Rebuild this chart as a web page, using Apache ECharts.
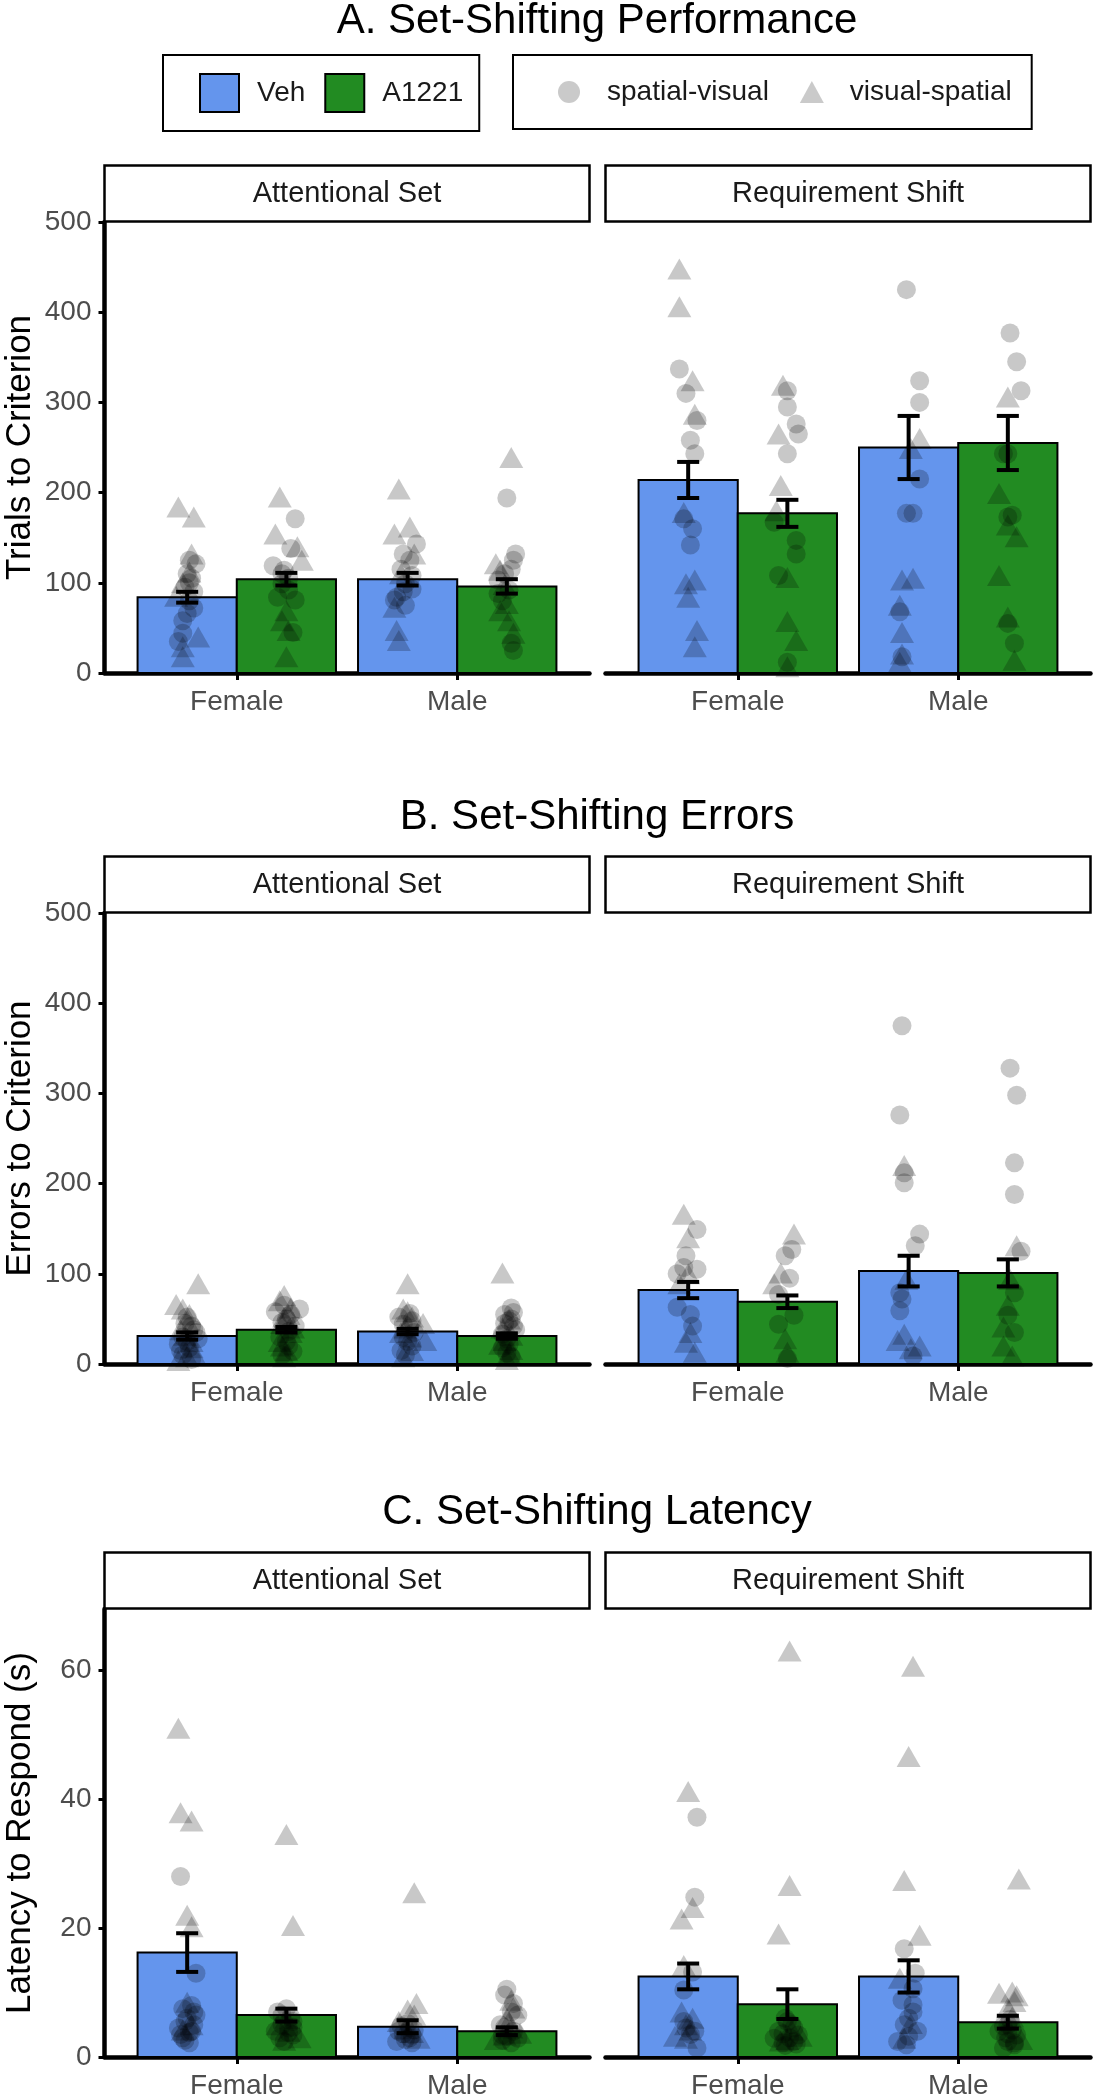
<!DOCTYPE html>
<html><head><meta charset="utf-8">
<script src="https://cdn.jsdelivr.net/npm/echarts@6/dist/echarts.min.js"></script>
<style>html,body{margin:0;padding:0;background:#fff}#chart{width:1094px;height:2100px}</style>
</head><body><div id="chart"></div>
<script>
// ---------- DATA ----------
const sexes = ['Female', 'Male'];
const treatments = ['Veh', 'A1221'];
const phases = ['Attentional Set', 'Requirement Shift'];
const shapes = ['spatial-visual', 'visual-spatial'];
const panelTitles = ['A. Set-Shifting Performance', 'B. Set-Shifting Errors', 'C. Set-Shifting Latency'];
const yTitles = ['Trials to Criterion', 'Errors to Criterion', 'Latency to Respond (s)'];
const yTicksTrials = [0, 100, 200, 300, 400, 500];
const yTicksErrors = [0, 100, 200, 300, 400, 500];
const yTicksLatency = [0, 20, 40, 60];
const yMaxes = [500, 500, 69.5];

// group order: 0 Female-Veh, 1 Female-A1221, 2 Male-Veh, 3 Male-A1221
const trialsMeanAS = [84, 104, 104, 96];
const trialsSeAS = [6, 7, 7, 8];
const trialsMeanRS = [214, 177, 250, 255];
const trialsSeRS = [20, 15, 35, 30];
const errorsMeanAS = [31, 38, 36, 31];
const errorsSeAS = [4, 3, 3, 3];
const errorsMeanRS = [82, 69, 103, 101];
const errorsSeRS = [9, 7, 17, 15];
const latencyMeanAS = [16.2, 6.5, 4.7, 4.0];
const latencySeAS = [3.0, 1.0, 1.0, 0.6];
const latencyMeanRS = [12.5, 8.2, 12.5, 5.4];
const latencySeRS = [2.0, 2.3, 2.5, 1.0];

// individual animals: [group, jitter, value]
const trialsCirclesAS = [
  [0,0.04,121],[0,0,110],[0,0.01,100],[0,0,66],[0,-0.02,58],[0,-0.02,44],[0,0.01,80],[0,0.03,90],[0,-0.04,35],[0,0.01,125],[0,0.02,105],[0,-0.01,95],[0,0.03,72],
  [1,0.04,171],[1,0.02,138],[1,-0.06,119],[1,-0.01,114],[1,-0.04,84],[1,0.04,81],[1,0.03,45],[1,-0.02,99],[1,0.01,105],[1,0.01,92],[1,-0.02,110],
  [2,0.04,143],[2,-0.02,132],[2,0.01,125],[2,-0.01,99],[2,-0.05,84],[2,-0.06,81],[2,-0.01,75],[2,0.02,93],[2,-0.03,115],[2,0.02,108],[2,-0.02,90],
  [3,0,194],[3,0.04,132],[3,0.03,125],[3,-0.01,110],[3,-0.04,103],[3,0.01,92],[3,0.02,33],[3,0.03,25],[3,-0.04,88],[3,0.02,115],[3,-0.02,80]
];
const trialsTrianglesAS = [
  [0,-0.04,184],[0,0.03,173],[0,0.02,132],[0,0.01,112],[0,-0.02,100],[0,0.05,40],[0,-0.02,29],[0,-0.02,18],[0,-0.05,85],
  [1,-0.03,195],[1,-0.05,154],[1,0.05,140],[1,0.07,125],[1,-0.02,58],[1,0.01,47],[1,0,18],[1,0,69],
  [2,-0.04,204],[2,-0.06,154],[2,0.01,162],[2,-0.05,47],[2,-0.04,36],[2,-0.06,73],[2,0.03,132],[2,-0.03,110],
  [3,0.02,239],[3,-0.05,121],[3,-0.03,114],[3,0,77],[3,0.01,58],[3,0.03,44],[3,-0.03,69],[3,-0.01,98]
];
const trialsCirclesRS = [
  [0,-0.04,337],[0,-0.01,310],[0,0.04,280],[0,0.01,258],[0,0.03,243],[0,-0.02,171],[0,0.02,160],[0,0.01,142],
  [1,0,313],[1,0,295],[1,0.04,276],[1,0.05,265],[1,0,243],[1,-0.06,167],[1,0.04,147],[1,0.04,132],[1,-0.04,108],[1,0,12],
  [2,-0.01,425],[2,0.05,324],[2,0.05,300],[2,0.05,215],[2,0.02,177],[2,-0.01,177],[2,-0.04,68],[2,-0.03,18],
  [3,0.01,377],[3,0.04,345],[3,0.06,313],[3,0,243],[3,-0.02,243],[3,0.02,175],[3,0,173],[3,0,55],[3,0.03,33]
];
const trialsTrianglesRS = [
  [0,-0.04,448],[0,-0.04,406],[0,0.02,324],[0,0.03,287],[0,-0.02,178],[0,-0.01,99],[0,0.03,103],[0,0,84],[0,0.04,47],[0,0.03,29],
  [1,-0.02,319],[1,-0.04,265],[1,-0.03,208],[1,-0.05,180],[1,0,106],[1,0,57],[1,0.04,36],[1,0,7],
  [2,0.05,260],[2,0.01,249],[2,-0.03,103],[2,0.02,105],[2,-0.04,75],[2,-0.03,45],[2,-0.03,21],[2,-0.04,12],
  [3,0,306],[3,-0.04,199],[3,0,164],[3,0.04,151],[3,-0.04,108],[3,0,62],[3,0.03,14]
];
const errorsCirclesAS = [
  [0,0,52],[0,0.02,42],[0,0.04,35],[0,-0.02,30],[0,-0.04,22],[0,0.01,18],[0,-0.02,10],[0,0.05,28],[0,-0.01,45],[0,0.03,38],[0,-0.03,15],[0,0.02,5],[0,0,25],
  [1,0.06,61],[1,-0.05,58],[1,0,50],[1,0.04,42],[1,-0.03,30],[1,0.01,20],[1,-0.02,10],[1,-0.01,65],[1,0.02,55],[1,-0.02,46],[1,0.01,36],[1,0,25],[1,0.03,14],
  [2,-0.04,52],[2,0.02,48],[2,0.01,40],[2,-0.02,30],[2,0.02,20],[2,-0.01,10],[2,0.01,56],[2,-0.02,44],[2,0.03,35],[2,0,25],[2,-0.03,15],
  [3,0.03,57],[3,0.02,50],[3,-0.01,45],[3,0.04,38],[3,0,28],[3,-0.02,18],[3,0.02,8],[3,0.02,62],[3,-0.01,55],[3,0.01,48],[3,0.03,42],[3,-0.02,33],[3,0.01,22],[3,0,12]
];
const errorsTrianglesAS = [
  [0,0.05,89],[0,-0.05,66],[0,-0.02,61],[0,0,48],[0,-0.03,38],[0,0.02,25],[0,0.03,12],[0,0,8],[0,0.01,55],[0,-0.01,32],[0,0.02,18],[0,-0.04,4],
  [1,-0.01,76],[1,-0.03,70],[1,0.01,55],[1,-0.02,45],[1,0.02,35],[1,-0.03,25],[1,0,15],[1,-0.01,8],[1,0.02,62],[1,-0.01,52],[1,0.03,40],[1,-0.02,20],
  [2,0,89],[2,-0.02,61],[2,0.07,45],[2,-0.03,35],[2,0.08,26],[2,0.02,15],[2,0,58],[2,0.02,52],[2,-0.01,40],[2,0.01,30],[2,-0.02,8],
  [3,-0.02,101],[3,-0.02,40],[3,0.02,32],[3,-0.03,22],[3,0.01,12],[3,0.01,50],[3,-0.01,26],[3,0.02,16],[3,0,5]
];
const errorsCirclesRS = [
  [0,0.04,149],[0,-0.01,120],[0,-0.02,107],[0,-0.05,100],[0,0.04,105],[0,-0.05,63],[0,0.01,55],[0,0.02,42],
  [1,0.02,127],[1,-0.01,120],[1,0.01,95],[1,-0.04,77],[1,0.03,54],[1,-0.04,44],[1,0,6],
  [2,-0.03,375],[2,-0.04,276],[2,-0.02,212],[2,-0.02,201],[2,0.05,144],[2,0.03,131],[2,-0.04,79],[2,-0.03,72],[2,-0.04,59],[2,0.02,9],
  [3,0.01,328],[3,0.04,298],[3,0.03,223],[3,0.03,188],[3,0.06,125],[3,0.03,79],[3,0,54],[3,0.03,35]
];
const errorsTrianglesRS = [
  [0,-0.02,166],[0,0,140],[0,0,100],[0,-0.04,89],[0,0.01,35],[0,-0.01,24],[0,0.03,13],
  [1,0.03,144],[1,-0.03,101],[1,-0.06,89],[1,-0.01,28],[1,0,13],
  [2,-0.02,220],[2,-0.01,94],[2,-0.05,26],[2,-0.02,33],[2,0.05,20],[2,0.01,17],
  [3,0.04,131],[3,0.01,94],[3,0,65],[3,-0.02,41],[3,-0.02,20],[3,0.02,9]
];
const latencyCirclesAS = [
  [0,-0.03,28],[0,0.04,13],[0,0.03,7],[0,-0.01,5.5],[0,-0.04,4.5],[0,0.02,4],[0,-0.02,3],[0,0.01,2.2],[0,0.04,6.5],[0,0.02,8],[0,-0.02,7.5],[0,0,6],[0,0.03,5],[0,-0.03,3.5],[0,0.01,3.8],[0,-0.01,2.6],
  [1,-0.02,6.5],[1,0.03,5.5],[1,0.01,4.5],[1,-0.05,4],[1,-0.01,2.4],[1,0.03,3.4],[1,-0.04,7],[1,0,7.5],[1,0.02,6.2],[1,-0.02,5],[1,0.01,3.8],[1,-0.03,3],[1,0.03,4.6],
  [2,-0.04,4],[2,0.02,3.4],[2,-0.01,2.7],[2,-0.05,2.4],[2,0.01,4.5],[2,0,5.2],[2,0.03,4.2],[2,-0.02,3.6],[2,0.01,3],[2,-0.03,4.8],[2,0.02,2.2],
  [3,-0.01,9.6],[3,0.03,8.3],[3,0.05,6.5],[3,-0.03,5],[3,-0.02,3.4],[3,0.05,2.9],[3,0.02,2.2],[3,0,10.5],[3,0.02,7],[3,-0.01,4.6],[3,0.03,4],[3,-0.02,2.6],[3,0,3.2]
];
const latencyTrianglesAS = [
  [0,-0.04,51],[0,-0.03,37.9],[0,0.02,36.6],[0,0,22],[0,0.02,20.2],[0,0.02,5],[0,0,8.5],[0,-0.02,4.2],
  [1,0,34.5],[1,0.03,20.4],[1,-0.04,5],[1,0.06,3],[1,0,6],[1,0.01,4],[1,-0.01,2.6],
  [2,0.03,25.5],[2,0.04,8.3],[2,0,7.3],[2,0.05,2.9],[2,-0.04,5.5],[2,0.02,3.8],[2,-0.01,4.4],[2,0.03,6.5],
  [3,0.03,7.6],[3,0,6],[3,0.02,4.5],[3,-0.05,2.7],[3,0.06,3.7],[3,0.02,8.8],[3,0.01,5.5],[3,-0.01,3.4]
];
const latencyCirclesRS = [
  [0,0.04,37.2],[0,0.03,24.8],[0,0.02,13.2],[0,-0.02,10.4],[0,-0.01,4.5],[0,0.03,4],[0,0.04,1.4],[0,-0.02,5.5],[0,0.01,3.5],
  [1,-0.01,6],[1,0.02,5],[1,-0.04,4],[1,0.05,3.4],[1,-0.02,2.2],[1,0.03,2.4],[1,-0.06,2.9],[1,0,5.5],[1,0.03,4.5],[1,-0.02,3.6],[1,0.01,3],[1,-0.01,1.8],[1,0.04,2],
  [2,-0.02,16.8],[2,0.02,8.1],[2,0,6],[2,0.04,4],[2,-0.05,2.4],[2,0.02,10.6],[2,-0.01,1.9],[2,0.03,13],[2,0.02,7],[2,-0.02,5],[2,0,3.2],[2,-0.03,8.8],
  [3,0,5],[3,-0.04,4],[3,0.04,3.4],[3,0,2.4],[3,-0.02,1.4],[3,0.03,1.9],[3,0.01,5.8],[3,-0.02,4.8],[3,0.02,4.2],[3,-0.01,3],[3,0.03,2.2],[3,0,3.6]
];
const latencyTrianglesRS = [
  [0,0,41.2],[0,0.02,23.2],[0,-0.03,21.4],[0,-0.02,14.2],[0,-0.03,7],[0,0.02,6],[0,-0.06,3.2],[0,-0.01,2.9],[0,-0.01,5],[0,0.01,4.2],
  [1,0.01,63],[1,0.01,26.6],[1,-0.04,19.1],[1,0,2.7],[1,0.06,3.2],[1,0.02,4.2],[1,-0.03,2.5],
  [2,0.02,60.6],[2,0,46.6],[2,-0.02,27.4],[2,0.05,18.9],[2,-0.04,12.2],[2,-0.02,2.9],[2,0.01,5.2],
  [3,0.05,27.6],[3,-0.04,9.9],[3,0.02,10.1],[3,0.03,8.6],[3,0,7.6],[3,0.06,2.7],[3,0.04,9.5],[3,0.02,6.2]
];

// ---------- LAYOUT / STYLE ----------
const FONT = '"Liberation Sans", Arial, sans-serif';
const barColors = ['#6495ED', '#228B22'];
const pointColor = 'rgba(0,0,0,0.27)';
const rowTop = [222, 913, 1609];
const panelH = 451;
const colLeft = [104.5, 605.5];
const panelW = 485;
const titleY = [21, 817, 1512];
const stripH = 56;

const panels = [
  { means: [trialsMeanAS, trialsMeanRS], ses: [trialsSeAS, trialsSeRS], circles: [trialsCirclesAS, trialsCirclesRS], triangles: [trialsTrianglesAS, trialsTrianglesRS], ticks: yTicksTrials },
  { means: [errorsMeanAS, errorsMeanRS], ses: [errorsSeAS, errorsSeRS], circles: [errorsCirclesAS, errorsCirclesRS], triangles: [errorsTrianglesAS, errorsTrianglesRS], ticks: yTicksErrors },
  { means: [latencyMeanAS, latencyMeanRS], ses: [latencySeAS, latencySeRS], circles: [latencyCirclesAS, latencyCirclesRS], triangles: [latencyTrianglesAS, latencyTrianglesRS], ticks: yTicksLatency }
];

const groupX = g => Math.floor(g / 2) + 1 + (g % 2 === 0 ? -0.225 : 0.225);

const grids = [], xAxes = [], yAxes = [], series = [], graphics = [];

panels.forEach((pan, r) => {
  graphics.push({
    type: 'text', x: 597, y: titleY[r], z: 10,
    style: { text: panelTitles[r], fontSize: 42, fontFamily: FONT, fill: '#000', textAlign: 'center', textVerticalAlign: 'middle' }
  });
  phases.forEach((ph, c) => {
    const gi = r * 2 + c;
    grids.push({ left: colLeft[c], top: rowTop[r], width: panelW, height: panelH, containLabel: false });
    graphics.push({
      type: 'rect', z: 5,
      shape: { x: colLeft[c], y: rowTop[r] - stripH - 0.5, width: panelW, height: stripH },
      style: { fill: '#fff', stroke: '#000', lineWidth: 2.5 }
    });
    graphics.push({
      type: 'text', z: 6, x: colLeft[c] + panelW / 2, y: rowTop[r] - stripH / 2 - 0.5,
      style: { text: ph, fontSize: 29, fontFamily: FONT, fill: '#1A1A1A', textAlign: 'center', textVerticalAlign: 'middle' }
    });
    xAxes.push({
      gridIndex: gi, type: 'value', min: 0.4, max: 2.6,
      axisLine: { show: true, lineStyle: { color: '#000', width: 4.5 } },
      axisTick: { show: true, customValues: [1, 2], length: 7, lineStyle: { color: '#000', width: 3 } },
      axisLabel: { show: true, customValues: [1, 2], formatter: v => sexes[Math.round(v) - 1], fontSize: 28, color: '#4D4D4D', fontFamily: FONT, margin: 15 },
      splitLine: { show: false }
    });
    const y = {
      gridIndex: gi, type: 'value', min: 0, max: yMaxes[r],
      splitLine: { show: false }
    };
    if (c === 0) {
      Object.assign(y, {
        axisLine: { show: true, lineStyle: { color: '#000', width: 4.5 } },
        axisTick: { show: true, customValues: pan.ticks, length: 6, lineStyle: { color: '#000', width: 3 } },
        axisLabel: { show: true, customValues: pan.ticks, fontSize: 28, color: '#4D4D4D', fontFamily: FONT, margin: 13 },
        name: yTitles[r], nameLocation: 'middle', nameGap: 67,
        nameTextStyle: { fontSize: 35, color: '#000', fontFamily: FONT }
      });
    } else {
      Object.assign(y, { axisLine: { show: false }, axisTick: { show: false }, axisLabel: { show: false } });
    }
    yAxes.push(y);

    treatments.forEach((trt, t) => {
      series.push({
        type: 'custom', name: trt, xAxisIndex: gi, yAxisIndex: gi, z: 2,
        itemStyle: { color: barColors[t] },
        encode: { x: 0, y: 1 },
        data: sexes.map((s, si) => [groupX(si * 2 + t), pan.means[c][si * 2 + t]]),
        renderItem: (params, api) => {
          const xv = api.value(0), yv = api.value(1);
          const p1 = api.coord([xv - 0.225, yv]);
          const p2 = api.coord([xv + 0.225, 0]);
          return { type: 'rect', shape: { x: p1[0], y: p1[1], width: p2[0] - p1[0], height: p2[1] - p1[1] },
                   style: { fill: barColors[t], stroke: '#000', lineWidth: 2 } };
        }
      });
    });
    [pan.circles[c], pan.triangles[c]].forEach((pts, s) => {
      series.push({
        type: 'scatter', name: shapes[s], xAxisIndex: gi, yAxisIndex: gi, z: 3,
        symbol: s === 0 ? 'circle' : 'triangle',
        symbolSize: s === 0 ? 19 : [24, 21],
        itemStyle: { color: pointColor },
        data: pts.map(p => [groupX(p[0]) + p[1], p[2]])
      });
    });
    series.push({
      type: 'custom', name: 'SEM', xAxisIndex: gi, yAxisIndex: gi, z: 4,
      encode: { x: 0, y: 1 },
      data: pan.means[c].map((m, g) => [groupX(g), m, pan.ses[c][g]]),
      renderItem: (params, api) => {
        const xv = api.value(0), m = api.value(1), se = api.value(2);
        const top = api.coord([xv, m + se]), bot = api.coord([xv, m - se]);
        const l = api.coord([xv - 0.05, 0])[0], rr = api.coord([xv + 0.05, 0])[0];
        const st = { stroke: '#000', lineWidth: 4 };
        return { type: 'group', children: [
          { type: 'line', shape: { x1: top[0], y1: top[1], x2: bot[0], y2: bot[1] }, style: st },
          { type: 'line', shape: { x1: l, y1: top[1], x2: rr, y2: top[1] }, style: st },
          { type: 'line', shape: { x1: l, y1: bot[1], x2: rr, y2: bot[1] }, style: st }
        ] };
      }
    });
  });
});

const chart = echarts.init(document.getElementById('chart'), null, { renderer: 'canvas' });
chart.setOption({
  animation: false,
  backgroundColor: '#fff',
  grid: grids,
  xAxis: xAxes,
  yAxis: yAxes,
  legend: [
    {
      data: treatments.map(n => ({ name: n, icon: 'rect' })),
      left: 163, top: 55, orient: 'horizontal',
      itemWidth: 39, itemHeight: 38, itemGap: 19,
      itemStyle: { borderColor: '#000', borderWidth: 2 },
      textStyle: { fontSize: 28, color: '#1A1A1A', fontFamily: FONT, padding: [0, 0, 0, 13], lineHeight: 38 },
      padding: [18, 16, 18, 36],
      borderColor: '#000', borderWidth: 2, selectedMode: false
    },
    {
      data: [{ name: shapes[0], icon: 'circle' }, { name: shapes[1], icon: 'triangle' }],
      left: 513, top: 55, orient: 'horizontal',
      itemWidth: 24, itemHeight: 22, itemGap: 31,
      itemStyle: { color: '#BDBDBD', borderWidth: 0 },
      textStyle: { fontSize: 28, color: '#1A1A1A', fontFamily: FONT, padding: [0, 0, 0, 21], lineHeight: 38 },
      padding: [18, 20, 18, 45],
      borderColor: '#000', borderWidth: 2, selectedMode: false
    }
  ],
  graphic: graphics,
  series: series
});
</script>
</body></html>
